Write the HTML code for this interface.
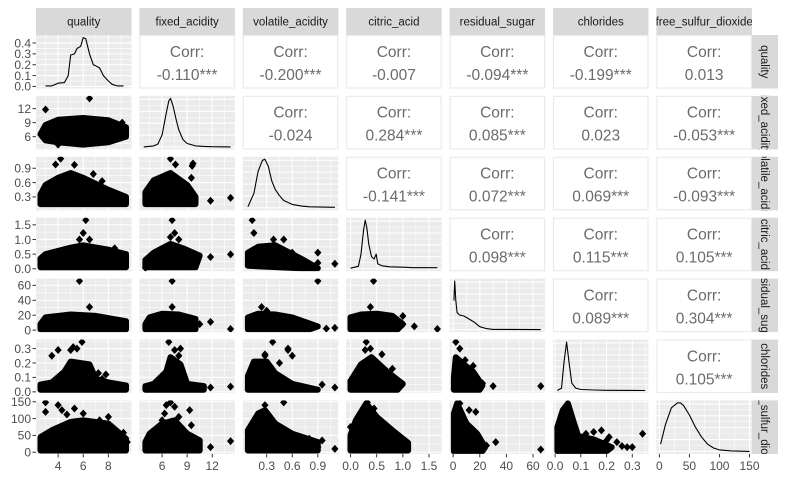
<!DOCTYPE html>
<html><head><meta charset="utf-8"><style>
html,body{margin:0;padding:0;background:#fff}
svg{display:block;font-family:"Liberation Sans",Arial,sans-serif}
</style></head><body>
<svg id="chart" width="787" height="486" viewBox="0 0 787 486" xmlns="http://www.w3.org/2000/svg"></svg>
<script>
const varNames = ["quality","fixed_acidity","volatile_acidity","citric_acid","residual_sugar","chlorides","free_sulfur_dioxide"];
const domains = [[2.24,9.84],[3.28,14.72],[0.02,1.14],[-0.083,1.743],[-2.66,69.06],[-0.008,0.363],[-5,154]];
const ticks = [[4,6,8],[6,9,12],[0.3,0.6,0.9],[0,0.5,1,1.5],[0,20,40,60],[0,0.1,0.2,0.3],[0,50,100,150]];
const tickLabels = [["4","6","8"],["6","9","12"],["0.3","0.6","0.9"],["0.0","0.5","1.0","1.5"],["0","20","40","60"],["0.0","0.1","0.2","0.3"],["0","50","100","150"]];
const densTicks = [0,0.1,0.2,0.3,0.4];
const densTickLabels = ["0.0","0.1","0.2","0.3","0.4"];
const densDomain = [-0.019,0.474];
const corrValues = [
 [null,"-0.110***","-0.200***","-0.007","-0.094***","-0.199***","0.013"],
 [null,null,"-0.024","0.284***","0.085***","0.023","-0.053***"],
 [null,null,null,"-0.141***","0.072***","0.069***","-0.093***"],
 [null,null,null,null,"0.098***","0.115***","0.105***"],
 [null,null,null,null,null,"0.089***","0.304***"],
 [null,null,null,null,null,null,"0.105***"]];
const densX = [
 [3,3.5,4,4.5,4.8,5,5.3,5.5,5.8,6,6.2,6.5,6.8,7,7.3,7.6,8,8.3,8.7,9.2],
 [3.8,5,5.5,6,6.5,6.8,7,7.3,7.7,8,8.5,9,10,11,12,14.2],
 [0.08,0.15,0.2,0.25,0.28,0.32,0.36,0.4,0.45,0.5,0.6,0.7,0.8,1.1],
 [0,0.15,0.2,0.25,0.28,0.31,0.35,0.4,0.45,0.49,0.52,0.6,0.75,1.0,1.2,1.66],
 [0.6,1.2,2,3,5,8,10,13,16,20,25,30,65.8],
 [0.009,0.025,0.035,0.045,0.055,0.065,0.08,0.1,0.15,0.2,0.35],
 [2,10,20,30,35,40,50,60,70,80,90,100,120,150]];
const densY = [
 [0.005,0.005,0.03,0.035,0.1,0.29,0.3,0.35,0.37,0.45,0.44,0.3,0.2,0.19,0.17,0.1,0.05,0.02,0.005,0.005],
 [0,0.02,0.06,0.25,0.7,0.95,1,0.85,0.55,0.35,0.15,0.07,0.02,0.01,0.005,0],
 [0.02,0.3,0.75,0.98,1,0.85,0.55,0.38,0.25,0.15,0.07,0.04,0.02,0.01],
 [0.01,0.05,0.3,0.8,1,0.85,0.5,0.25,0.2,0.3,0.1,0.06,0.04,0.03,0.02,0.02],
 [0.6,1,0.6,0.35,0.3,0.28,0.25,0.2,0.15,0.06,0.02,0.005,0],
 [0,0.05,0.6,1,0.55,0.15,0.05,0.02,0.01,0.005,0],
 [0.15,0.55,0.9,1,1,0.95,0.75,0.5,0.3,0.15,0.07,0.03,0.01,0]];
const cores = {
 "1-0":[[2.6,6.5],[3,5.2],[4,4.8],[6,4.3],[8,4.8],[9.4,6],[9.4,8],[8,9.5],[6,10],[4,9.6],[3,8.5]],
 "2-0":[[2.6,0.15],[9.4,0.15],[9.4,0.3],[8,0.45],[6,0.7],[5,0.8],[4,0.7],[3,0.55],[2.6,0.35]],
 "2-1":[[4,0.15],[10,0.15],[10,0.3],[9,0.55],[7,0.8],[5,0.65],[4,0.4]],
 "3-0":[[2.6,0.05],[9.4,0.05],[9.4,0.5],[8,0.65],[6,0.8],[5,0.72],[3,0.5],[2.6,0.35]],
 "3-1":[[4,0.05],[10,0.05],[10.5,0.45],[8.5,0.7],[7,0.85],[5,0.55],[4,0.3]],
 "3-2":[[0.08,0.1],[0.7,0.02],[0.9,0.02],[0.7,0.35],[0.4,0.8],[0.2,0.75],[0.08,0.55]],
 "4-0":[[2.6,1],[9.4,1],[9.4,12],[7,19],[5,21],[3,17],[2.6,8]],
 "4-1":[[4,1],[10,1],[10,15],[8,21],[6,22],[4.5,17],[4,8]],
 "4-2":[[0.08,1],[0.8,1],[0.9,5],[0.6,17],[0.4,21],[0.2,22],[0.08,17]],
 "4-3":[[0,1],[0.9,1],[1.0,8],[0.8,19],[0.5,22],[0.2,21],[0,17]],
 "5-0":[[2.6,0.015],[9.4,0.015],[9.4,0.045],[8,0.065],[7,0.09],[6.5,0.19],[5,0.21],[4.5,0.14],[3.5,0.065],[2.6,0.05]],
 "5-1":[[4,0.015],[11,0.015],[11,0.04],[9,0.055],[8.2,0.19],[7,0.24],[6.5,0.14],[5,0.055],[4,0.04]],
 "5-2":[[0.08,0.015],[0.9,0.015],[0.6,0.055],[0.4,0.13],[0.3,0.21],[0.15,0.21],[0.08,0.11]],
 "5-3":[[0,0.015],[0.9,0.015],[1.0,0.055],[0.7,0.14],[0.4,0.24],[0.2,0.19],[0,0.075]],
 "5-4":[[0.6,0.015],[20,0.015],[22,0.045],[15,0.14],[8,0.19],[2,0.24],[0.6,0.1]],
 "6-0":[[2.6,5],[9.4,5],[9.4,40],[8,85],[6,95],[5,90],[3.5,65],[2.6,45]],
 "6-1":[[4,5],[10.5,5],[10.5,35],[9,55],[7.5,95],[6,85],[4.5,55],[4,30]],
 "6-2":[[0.08,5],[0.9,5],[0.9,30],[0.6,55],[0.4,85],[0.28,125],[0.2,115],[0.08,65]],
 "6-3":[[0,5],[1.1,5],[1.1,28],[0.8,65],[0.5,105],[0.3,145],[0.1,95],[0,50]],
 "6-4":[[0.6,3],[22,3],[24,15],[18,55],[10,85],[3,145],[0.6,115]],
 "6-5":[[0.009,3],[0.2,3],[0.22,15],[0.15,38],[0.09,48],[0.07,95],[0.05,145],[0.03,125],[0.009,75]]
};
const outliers = {
 "1-0":[[6.5,14.2],[3,11.8],[9.1,9],[4,4.3]],
 "2-0":[[4.2,1.1],[3.8,0.98],[5.3,0.97],[6.8,0.78],[3,0.5],[8.7,0.28],[7.5,0.63]],
 "2-1":[[7,1.1],[7.6,0.98],[9.7,1.0],[9.6,0.95],[11.8,0.22],[14.2,0.28],[9.5,0.7]],
 "3-0":[[6.2,1.66],[6.0,1.22],[5.7,1.0],[6.5,1.0],[8.5,0.7],[9.2,0.45]],
 "3-1":[[7.2,1.66],[7.5,1.22],[8,1.0],[7,1.08],[11.8,0.4],[14.2,0.49],[4,0.03]],
 "3-2":[[0.13,1.66],[0.15,1.22],[0.38,1.0],[0.5,1.0],[0.6,0.55],[0.9,0.55],[1.1,0.17],[0.9,0.2]],
 "4-0":[[5.7,65.8],[6.5,31],[8.8,11],[9.1,3]],
 "4-1":[[7.2,65.8],[7.2,31],[11.8,11],[14.2,1.5],[10.5,8]],
 "4-2":[[0.24,31],[0.3,26],[0.9,65.8],[1.0,2],[1.1,3],[0.8,8]],
 "4-3":[[0.38,31],[0.44,65.8],[1.0,19],[1.0,8],[1.22,5],[1.66,1.5]],
 "5-0":[[5.9,0.346],[3.5,0.25],[4,0.29],[5,0.29],[5.2,0.31],[5.5,0.3],[7.2,0.13],[7.8,0.12],[9.2,0.03],[7.5,0.09]],
 "5-1":[[6.8,0.346],[7.5,0.29],[8.2,0.3],[8,0.25],[11.8,0.03],[14.2,0.036]],
 "5-2":[[0.37,0.346],[0.28,0.26],[0.28,0.25],[0.55,0.3],[0.6,0.25],[0.55,0.29],[0.95,0.05],[1.1,0.03],[0.45,0.2]],
 "5-3":[[0.3,0.346],[0.38,0.3],[0.6,0.26],[0.28,0.29],[0.8,0.16]],
 "5-4":[[2,0.346],[5,0.3],[9,0.22],[22,0.06],[30,0.04],[65.8,0.04],[15,0.18]],
 "6-0":[[3,148],[3,120],[4,140],[4.3,125],[5.3,130],[6,115],[8,105],[4.7,112],[9.2,58],[9.5,30],[7.3,95]],
 "6-1":[[6,95],[7,148],[6.5,140],[7.5,135],[8,105],[9.3,125],[9.5,80],[11.8,15],[14.2,33],[6.3,115]],
 "6-2":[[0.5,148],[0.28,140],[0.7,45],[0.8,40],[0.95,35],[0.9,15],[1.1,10],[0.42,80]],
 "6-3":[[0,75],[0.32,148],[0.45,130]],
 "6-4":[[5,145],[12,125],[17,120],[25,20],[32,30],[65.8,8]],
 "6-5":[[0.12,55],[0.15,60],[0.18,65],[0.2,35],[0.24,30],[0.26,18],[0.28,15],[0.3,15],[0.34,55],[0.21,45],[0.17,25]]
};

const NS="http://www.w3.org/2000/svg";
const svg=document.getElementById('chart');
const X0=36,W=95.5,SX=103.4,Y0=35,H=53.5,SY=60.9;
function el(tag,attrs,parent){const e=document.createElementNS(NS,tag);for(const k in attrs)e.setAttribute(k,attrs[k]);(parent||svg).appendChild(e);return e;}
function colX(j){return X0+j*SX;}
function rowY(i){return Y0+i*SY;}
function sx(j,v){const d=domains[j];return colX(j)+(v-d[0])/(d[1]-d[0])*W;}
function sy(i,v){const d=domains[i];return rowY(i)+H-(v-d[0])/(d[1]-d[0])*H;}
function minors(t){const s=t[1]-t[0];const m=[t[0]-s/2];t.forEach(v=>m.push(v+s/2));return m;}

for(let j=0;j<7;j++){
 const g=el('g',{});
 
 
 const cp=el('clipPath',{id:'ct'+j});el('rect',{x:colX(j),y:8,width:W,height:27},cp);
 el('rect',{x:colX(j),y:8,width:W,height:27,fill:'#d9d9d9'},g);
 const t=el('text',{x:colX(j)+W/2,y:25.5,'text-anchor':'middle','font-size':'11.5',fill:'#1a1a1a','clip-path':'url(#ct'+j+')'},g);
 t.textContent=varNames[j];
}
for(let i=0;i<7;i++){
 const g=el('g',{});
 
 
 const cp=el('clipPath',{id:'cr'+i});el('rect',{x:752,y:rowY(i),width:26,height:H},cp);
 el('rect',{x:752,y:rowY(i),width:26,height:H,fill:'#d9d9d9'},g);
 const cy=rowY(i)+H/2;
 const cg=el('g',{'clip-path':'url(#cr'+i+')'},g);
 const t=el('text',{x:761,y:cy,'text-anchor':'middle','font-size':'11.5',fill:'#1a1a1a',transform:'rotate(90 761 '+cy+')'},cg);
 t.textContent=varNames[i];
}

for(let i=0;i<7;i++){
 for(let j=0;j<7;j++){
  const px=colX(j),py=rowY(i);
  const g=el('g',{});
  if(j>i){
   
   
   el('rect',{x:px+0.5,y:py+0.5,width:W-1,height:H-1,fill:'#fff',stroke:'#ebebeb','stroke-width':1.2},g);
   const t1=el('text',{x:px+W/2,y:py+H/2-5,'text-anchor':'middle','font-size':'15.5',fill:'#6b6b6b'},g);t1.textContent='Corr:';
   const t2=el('text',{x:px+W/2,y:py+H/2+18,'text-anchor':'middle','font-size':'15.5',fill:'#6b6b6b'},g);t2.textContent=corrValues[i][j];
   continue;
  }
  
  
  const cp=el('clipPath',{id:'cp'+i+'_'+j});el('rect',{x:px,y:py,width:W,height:H},cp);
  el('rect',{x:px,y:py,width:W,height:H,fill:'#ebebeb'},g);
  minors(ticks[j]).forEach(v=>{const x=sx(j,v);if(x>px&&x<px+W)el('line',{x1:x,x2:x,y1:py,y2:py+H,stroke:'#fff','stroke-width':0.55},g);});
  ticks[j].forEach(v=>{const x=sx(j,v);el('line',{x1:x,x2:x,y1:py,y2:py+H,stroke:'#fff','stroke-width':1.1},g);});
  let yt,ys;
  if(i===j){
   if(i===0){yt=densTicks;ys=v=>py+H-(v-densDomain[0])/(densDomain[1]-densDomain[0])*H;}
   else{yt=[0,0.25,0.5,0.75,1];ys=v=>py+H-2.5-v*(H-6);}
  }else{yt=ticks[i];ys=v=>sy(i,v);}
  minors(yt).forEach(v=>{const y=ys(v);if(y>py&&y<py+H)el('line',{x1:px,x2:px+W,y1:y,y2:y,stroke:'#fff','stroke-width':0.55},g);});
  yt.forEach(v=>{const y=ys(v);if(y>=py&&y<=py+H)el('line',{x1:px,x2:px+W,y1:y,y2:y,stroke:'#fff','stroke-width':1.1},g);});
  if(i===j){
   const xs=densX[i],dy=densY[i];
   let dyf;
   if(i===0)dyf=v=>py+H-(v-densDomain[0])/(densDomain[1]-densDomain[0])*H;
   else{const mx=Math.max(...dy);dyf=v=>py+H-2.5-v/mx*(H-5);}
   const pts=xs.map((x,k)=>sx(j,x).toFixed(1)+','+dyf(dy[k]).toFixed(1)).join(' ');
   const pl=el('polyline',{points:pts,fill:'none',stroke:'#000','stroke-width':1.1,'stroke-linejoin':'round'},g);
   
   
  }else{
   const key=i+'-'+j;
   const cg=el('g',{'clip-path':'url(#cp'+i+'_'+j+')'},g);
   const pts=cores[key].map(p=>sx(j,p[0]).toFixed(1)+','+sy(i,p[1]).toFixed(1)).join(' ');
   const poly=el('polygon',{points:pts,fill:'#000',stroke:'#000','stroke-width':6,'stroke-linejoin':'round'},cg);
   
   
   outliers[key].forEach(p=>{
    const x=sx(j,p[0]),y=sy(i,p[1]);
    const d=el('polygon',{points:(x)+','+(y-4)+' '+(x+3.6)+','+y+' '+x+','+(y+4)+' '+(x-3.6)+','+y,fill:'#000'},cg);
    
    
   });
  }
 }
}
for(let i=0;i<7;i++){
 const g=el('g',{});
 
 
 const t=i===0?densTicks:ticks[i],lab=i===0?densTickLabels:tickLabels[i];
 t.forEach((v,k)=>{
  const y=i===0?rowY(0)+H-(v-densDomain[0])/(densDomain[1]-densDomain[0])*H:sy(i,v);
  el('line',{x1:32.5,x2:36,y1:y,y2:y,stroke:'#333','stroke-width':1},g);
  const tx=el('text',{x:31,y:y+4.3,'text-anchor':'end','font-size':'12',fill:'#4d4d4d'},g);tx.textContent=lab[k];
 });
}
for(let j=0;j<7;j++){
 const g=el('g',{});
 
 
 const by=rowY(6)+H;
 ticks[j].forEach((v,k)=>{
  const x=sx(j,v);
  el('line',{x1:x,x2:x,y1:by,y2:by+3.5,stroke:'#333','stroke-width':1},g);
  const tx=el('text',{x:x,y:by+16,'text-anchor':'middle','font-size':'12',fill:'#4d4d4d'},g);tx.textContent=tickLabels[j][k];
 });
}
</script>
</body></html>
